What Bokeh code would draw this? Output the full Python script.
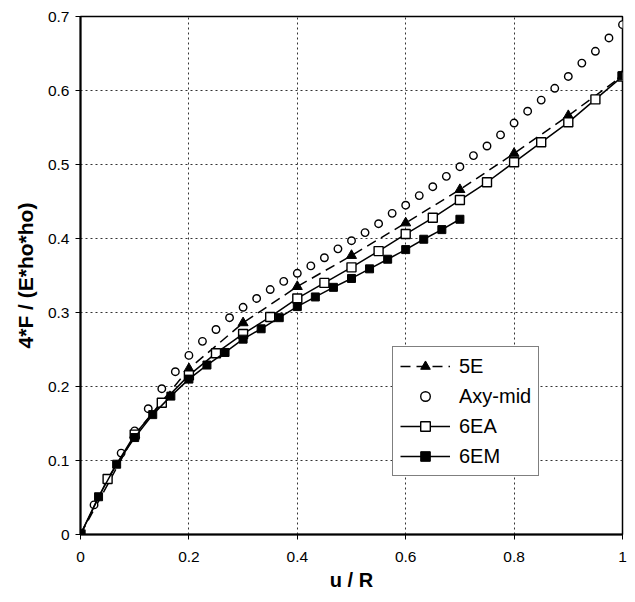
from bokeh.plotting import figure
from bokeh.models import FixedTicker, CustomJSTickFormatter, Legend, LegendItem, Range1d
from bokeh.embed import file_html
from bokeh.resources import INLINE

# ---- data ----
x_5e = [0.0, 0.1, 0.2, 0.3, 0.4, 0.5, 0.6, 0.7, 0.8, 0.9, 1.0]
y_5e = [0.0, 0.135, 0.224, 0.286, 0.335, 0.377, 0.421, 0.466, 0.515, 0.566, 0.620]

x_axy = [0.0, 0.025, 0.05, 0.075, 0.1, 0.125, 0.15, 0.175, 0.2, 0.225, 0.25, 0.275,
         0.3, 0.325, 0.35, 0.375, 0.4, 0.425, 0.45, 0.475, 0.5, 0.525, 0.55, 0.575,
         0.6, 0.625, 0.65, 0.675, 0.7, 0.725, 0.75, 0.775, 0.8, 0.825, 0.85, 0.875,
         0.9, 0.925, 0.95, 0.975, 1.0]
y_axy = [0.0, 0.040, 0.075, 0.110, 0.140, 0.170, 0.197, 0.220, 0.242, 0.261, 0.277, 0.293,
         0.307, 0.319, 0.331, 0.342, 0.353, 0.363, 0.374, 0.386, 0.397, 0.408, 0.420, 0.434,
         0.445, 0.458, 0.470, 0.484, 0.497, 0.512, 0.525, 0.540, 0.556, 0.572, 0.587, 0.603,
         0.619, 0.637, 0.653, 0.671, 0.689]

x_6ea = [0.0, 0.05, 0.1, 0.15, 0.2, 0.25, 0.3, 0.35, 0.4, 0.45, 0.5, 0.55, 0.6, 0.65,
         0.7, 0.75, 0.8, 0.85, 0.9, 0.95, 1.0]
y_6ea = [0.0, 0.075, 0.135, 0.178, 0.215, 0.245, 0.271, 0.294, 0.319, 0.340, 0.361, 0.383,
         0.406, 0.428, 0.452, 0.476, 0.503, 0.530, 0.557, 0.588, 0.619]

x_6em = [0.0, 0.0333, 0.0667, 0.1, 0.1333, 0.1667, 0.2, 0.2333, 0.2667, 0.3, 0.3333,
         0.3667, 0.4, 0.4333, 0.4667, 0.5, 0.5333, 0.5667, 0.6, 0.6333, 0.6667, 0.7]
y_6em = [0.0, 0.051, 0.095, 0.131, 0.162, 0.187, 0.210, 0.229, 0.246, 0.264, 0.278,
         0.293, 0.308, 0.321, 0.334, 0.346, 0.359, 0.372, 0.385, 0.399, 0.412, 0.426]
x_6em_end = [1.0]
y_6em_end = [0.620]

x_ticks = [0, 0.2, 0.4, 0.6, 0.8, 1.0]
y_ticks = [0, 0.1, 0.2, 0.3, 0.4, 0.5, 0.6, 0.7]

FONT = "Liberation Sans"

p = figure(width=630, height=594, output_backend="svg", toolbar_location=None,
           x_range=Range1d(0, 1), y_range=Range1d(0, 0.7),
           min_border_left=80, min_border_right=8, min_border_top=16, min_border_bottom=60,
           background_fill_color="white", border_fill_color="white")

p.outline_line_color = "black"
p.outline_line_width = 1.5

fmt = CustomJSTickFormatter(code="return String(Math.round(tick*10)/10);")
p.xaxis.ticker = FixedTicker(ticks=x_ticks)
p.yaxis.ticker = FixedTicker(ticks=y_ticks)
p.xaxis.formatter = fmt
p.yaxis.formatter = fmt
for ax in (p.xaxis[0], p.yaxis[0]):
    ax.axis_line_width = 2
    ax.axis_line_color = "black"
    ax.major_tick_in = 0
    ax.major_tick_out = 5
    ax.major_tick_line_color = "black"
    ax.minor_tick_line_color = None
    ax.major_label_text_font = FONT
    ax.major_label_text_font_size = "15.5px"
    ax.major_label_text_color = "black"
    ax.axis_label_text_font = FONT
    ax.axis_label_text_font_style = "bold"
    ax.axis_label_text_color = "black"
p.xaxis.major_label_standoff = 12
p.yaxis.major_label_standoff = 6
p.xaxis.axis_label = "u / R"
p.yaxis.axis_label = "4*F / (E*ho*ho)"
p.xaxis.axis_label_text_font_size = "20px"
p.yaxis.axis_label_text_font_size = "21px"
p.xaxis.axis_label_standoff = 4
p.yaxis.axis_label_standoff = 8

p.xgrid.ticker = FixedTicker(ticks=x_ticks)
p.ygrid.ticker = FixedTicker(ticks=y_ticks)
for g in (p.xgrid[0], p.ygrid[0]):
    g.grid_line_color = "#333333"
    g.grid_line_dash = "2 3"
    g.grid_line_width = 1

# ---- series ----
l5e = p.line(x_5e, y_5e, line_color="black", line_width=1.5, line_dash="10 6")
s5e = p.scatter(x_5e, y_5e, marker="triangle", size=10, fill_color="black", line_color="black")

saxy = p.scatter(x_axy, y_axy, marker="circle", size=7.5, fill_color="white",
                 line_color="black", line_width=1.4)

l6ea = p.line(x_6ea, y_6ea, line_color="black", line_width=1.5)
s6ea = p.scatter(x_6ea, y_6ea, marker="square", size=9, fill_color="white",
                 line_color="black", line_width=1.4)

l6em = p.line(x_6em, y_6em, line_color="black", line_width=1.5)
s6em = p.scatter(x_6em, y_6em, marker="square", size=8, fill_color="black", line_color="black")
p.scatter(x_6em_end, y_6em_end, marker="square", size=8, fill_color="black", line_color="black")

legend = Legend(items=[
    LegendItem(label="5E", renderers=[l5e, s5e]),
    LegendItem(label="Axy-mid", renderers=[saxy]),
    LegendItem(label="6EA", renderers=[l6ea, s6ea]),
    LegendItem(label="6EM", renderers=[l6em, s6em]),
], location=(312, 58))
legend.label_text_font = FONT
legend.label_text_font_size = "20px"
legend.label_text_color = "black"
legend.label_standoff = 9
legend.glyph_width = 50
legend.glyph_height = 24
legend.label_height = 24
legend.spacing = 6
legend.padding = 7
legend.margin = 0
legend.border_line_color = "black"
legend.border_line_width = 1
legend.background_fill_color = "white"
legend.background_fill_alpha = 1
p.add_layout(legend, "center")

open("out.html", "w").write(file_html(p, INLINE))
